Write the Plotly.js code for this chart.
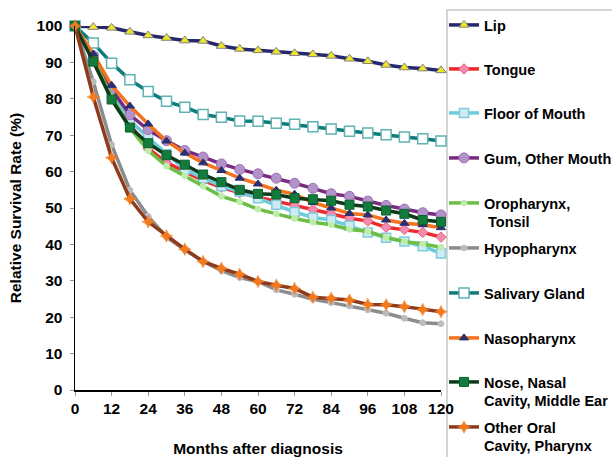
<!DOCTYPE html>
<html>
<head>
<meta charset="utf-8">
<script src="https://cdn.plot.ly/plotly-3.0.1.min.js"></script>
<style>
html,body{margin:0;padding:0;background:#fff;}
#chart{width:612px;height:457px;}
</style>
</head>
<body>
<div id="chart"></div>
<script>
const months = [0,6,12,18,24,30,36,42,48,54,60,66,72,78,84,90,96,102,108,114,120];
const xTicks = [0,12,24,36,48,60,72,84,96,108,120];
const yTicks = [0,10,20,30,40,50,60,70,80,90,100];

const seriesNames = ["Lip","Tongue","Floor of Mouth","Gum, Other Mouth","Oropharynx,<br> Tonsil","Hypopharynx","Salivary Gland","Nasopharynx","Nose, Nasal<br>Cavity, Middle Ear","Other Oral<br>Cavity, Pharynx"];

const lip         = [100,99.7,99.5,98.4,97.4,96.7,96.0,95.9,94.5,93.7,93.3,92.9,92.5,92.2,91.8,91.0,90.3,89.3,88.6,88.3,87.8];
const tongue      = [100,91.0,81.5,73.0,66.3,62.5,60.0,57.5,55.7,54.2,53.0,51.9,50.7,49.6,48.4,47.2,46.4,44.7,44.1,43.3,42.0];
const floorMouth  = [100,91.5,81.5,74.0,69.3,64.8,60.6,58.2,56.0,54.5,52.7,50.9,48.9,47.4,46.7,45.1,43.3,41.8,40.8,39.5,37.5];
const gum         = [100,91.8,82.6,75.6,71.5,68.5,65.8,64.0,62.1,60.6,59.4,58.2,56.8,55.4,53.9,53.2,51.9,50.7,49.7,48.7,48.1];
const oropharynx  = [100,91.0,80.5,72.0,65.8,61.5,58.8,56.0,53.2,51.7,49.7,48.4,47.1,46.1,45.4,44.1,43.6,41.9,40.8,40.1,39.2];
const hypopharynx = [100,84.7,67.4,54.9,47.7,42.0,38.5,35.3,32.8,30.9,29.8,27.5,26.3,24.9,24.0,23.1,22.0,21.1,19.7,18.5,18.2];
const salivary    = [100,95.3,89.8,85.2,82.0,79.3,77.7,75.7,74.9,73.9,73.8,73.3,73.0,72.3,71.7,71.1,70.6,70.1,69.5,69.0,68.4];
const nasopharynx = [100,92.3,83.7,78.0,73.1,68.4,65.1,62.4,60.3,58.2,56.6,54.9,53.8,51.5,50.0,48.5,48.1,46.7,45.8,45.4,44.6];
const nose        = [100,90.2,79.8,72.1,67.8,64.5,61.9,59.2,57.1,55.0,53.9,53.7,52.7,52.4,52.0,50.9,50.4,49.3,48.4,46.7,46.2];
const otherOral   = [100,80.5,63.8,52.5,46.2,42.3,38.7,35.3,33.4,31.8,29.8,28.8,27.9,25.5,25.2,24.7,23.5,23.4,22.9,22.1,21.5];

const values = [lip,tongue,floorMouth,gum,oropharynx,hypopharynx,salivary,nasopharynx,nose,otherOral];

const styles = [
  {line:'#27276E', sym:'triangle-up', fill:'#F0E628', edge:'#808080', size:9, ew:1},
  {line:'#EE2A2A', sym:'diamond', fill:'#F38BB0', edge:'#E8607C', size:8, ew:1},
  {line:'#6FCBDB', sym:'square', fill:'#CDEBF3', edge:'#7FCCDD', size:9, ew:1.5},
  {line:'#7A2B80', sym:'circle', fill:'#B392C9', edge:'#9B72B5', size:10, ew:1},
  {line:'#6CBE45', sym:'circle-x', fill:'#B8E8A0', edge:'#C8F0B8', size:6, ew:1},
  {line:'#8C8C8C', sym:'circle-x', fill:'#B0B0B0', edge:'#C8C8C8', size:6, ew:1},
  {line:'#0E7C7B', sym:'square', fill:'#FFFFFF', edge:'#5FB3B3', size:10, ew:1.5},
  {line:'#F47320', sym:'triangle-up', fill:'#283075', edge:'#283075', size:8, ew:1},
  {line:'#0F3A1A', sym:'square', fill:'#137C3C', edge:'#0F6030', size:9, ew:1},
  {line:'#8E3A1B', sym:'star-diamond', fill:'#F47A20', edge:'#F47A20', size:9, ew:0.5}
];

const W = 612, H = 457;
const mL = 75, mR = 171, mT = 26, mB = 67;
const legendCenters = [25,69,113,158,203,248,293,338,382,427];
const legendLeftPx = 444;
const boxLeftPx = 447;
const FONT = 'Liberation Sans, Arial, Helvetica, sans-serif';

const traces = values.map((v,i) => ({
  type:'scatter', mode:'lines+markers',
  x: months, y: v, name: seriesNames[i],
  legend: i === 0 ? 'legend' : 'legend' + (i+1),
  cliponaxis:false,
  line:{color:styles[i].line, width:3.5},
  marker:{symbol:styles[i].sym, color:styles[i].fill, size:styles[i].size,
          line:{color:styles[i].edge, width:styles[i].ew}}
}));

const layout = {
  width:W, height:H,
  margin:{l:mL, r:mR, t:mT, b:mB, pad:0},
  paper_bgcolor:'#fff', plot_bgcolor:'#fff',
  font:{family:FONT, color:'#000'},
  xaxis:{range:[0,120], tickvals:xTicks, ticktext:xTicks.map(String),
    showgrid:false, zeroline:false, showline:true, linecolor:'#000', linewidth:1.5,
    ticks:'outside', ticklen:4, tickcolor:'#999', tickwidth:1,
    tickfont:{family:FONT, size:15.5, weight:'bold'},
    title:{text:'Months after diagnosis', font:{family:FONT, size:15.5, weight:'bold'}, standoff:28}},
  yaxis:{range:[0,100], tickvals:yTicks, ticktext:yTicks.map(String),
    showgrid:false, zeroline:false, showline:true, linecolor:'#000', linewidth:1.5,
    ticks:'outside', ticklen:4, tickcolor:'#999', tickwidth:1, ticklabelstandoff:4,
    tickfont:{family:FONT, size:15.5, weight:'bold'},
    title:{text:'Relative Survival Rate (%)', font:{family:FONT, size:15.5, weight:'bold'}, standoff:11}},
  shapes:[{type:'rect', xref:'paper', yref:'paper',
    x0:(boxLeftPx-mL)/(W-mL-mR), x1:(640-mL)/(W-mL-mR),
    y0:(H-mB-480)/(H-mT-mB), y1:(H-mB-10)/(H-mT-mB),
    line:{color:'#C8C8C8', width:1.5}, fillcolor:'rgba(0,0,0,0)', layer:'below'}],
  showlegend:true
};

legendCenters.forEach((c,i) => {
  const key = i === 0 ? 'legend' : 'legend' + (i+1);
  layout[key] = {
    xref:'container', yref:'container',
    x: legendLeftPx / W, xanchor:'left',
    y: 1 - (c - 16) / H, yanchor:'top',
    bgcolor:'rgba(0,0,0,0)', borderwidth:0,
    itemwidth:30, valign:'top',
    font:{family:FONT, size:14.5, weight:'bold', color:'#000'}
  };
});

Plotly.newPlot('chart', traces, layout, {displayModeBar:false, staticPlot:true});
</script>
</body>
</html>
